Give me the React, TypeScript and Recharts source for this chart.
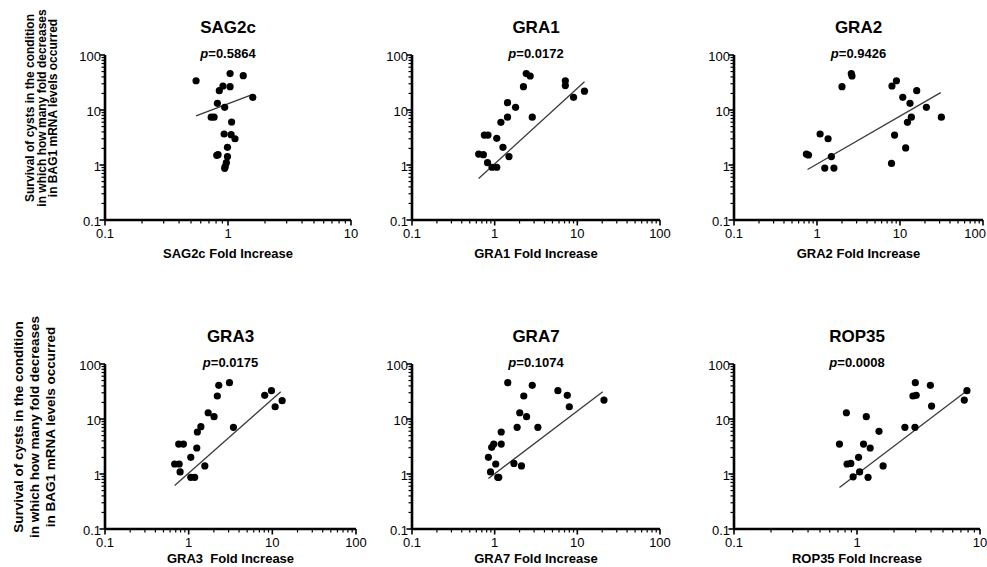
import React from 'react';
import { ScatterChart, Scatter, XAxis, YAxis } from 'recharts';

// ---- tick labels ----
const yMajor = [0.1, 1, 10, 100];
const xMajorShort = [0.1, 1, 10];
const xMajorLong = [0.1, 1, 10, 100];

// ---- SAG2c ----
const sag2cX = [0.55, 1.04, 1.33, 0.91, 1.04, 0.85, 1.59, 0.82, 0.94, 0.73, 0.77, 1.07, 0.93, 1.06, 1.14, 0.99, 0.83, 0.81, 0.99, 0.97, 0.95, 0.94];
const sag2cY = [34, 46, 42, 27.3, 26.5, 22.5, 17, 13.2, 11.2, 7.4, 7.4, 6.05, 3.66, 3.56, 3.0, 2.1, 1.54, 1.5, 1.42, 1.1, 0.95, 0.87];
const sag2cFitX = [0.55, 1.59];
const sag2cFitY = [7.8, 19.3];

// ---- GRA1 ----
const gra1X = [2.41, 2.69, 2.23, 7.16, 7.16, 9.0, 12.2, 1.43, 1.79, 1.43, 2.85, 1.19, 0.75, 0.83, 1.06, 1.26, 0.64, 0.73, 1.49, 0.82, 0.93, 1.06];
const gra1Y = [46, 41.5, 26.5, 34, 27.8, 17, 22, 13.6, 11.2, 7.4, 7.4, 5.97, 3.5, 3.5, 3.05, 2.1, 1.58, 1.54, 1.42, 1.1, 0.91, 0.91];
const gra1FitX = [0.64, 12.2];
const gra1FitY = [0.57, 32.7];

// ---- GRA2 ----
const gra2X = [2.59, 2.64, 2.0, 9.06, 8.0, 15.9, 10.8, 13.2, 20.8, 31.5, 13.7, 12.3, 1.09, 1.36, 8.6, 11.7, 0.745, 0.79, 1.49, 7.9, 1.24, 1.6];
const gra2Y = [46, 41.5, 26.5, 34, 27.3, 22.5, 17, 13.2, 11.2, 7.4, 7.4, 5.97, 3.66, 3.0, 3.5, 2.04, 1.58, 1.52, 1.42, 1.07, 0.88, 0.88];
const gra2FitX = [0.77, 30.9];
const gra2FitY = [0.83, 20.7];

// ---- GRA3 ----
const gra3X = [2.29, 3.07, 2.2, 8.1, 9.76, 10.8, 13.1, 1.71, 2.01, 3.43, 1.4, 1.27, 0.76, 0.865, 1.25, 1.06, 0.68, 0.77, 1.56, 0.79, 1.06, 1.18];
const gra3Y = [41, 45.8, 26.2, 26.9, 32.7, 16.7, 21.5, 13, 11, 7.06, 7.24, 5.8, 3.5, 3.5, 2.97, 2.01, 1.52, 1.52, 1.4, 1.09, 0.87, 0.87];
const gra3FitX = [0.68, 12.6];
const gra3FitY = [0.62, 31.4];

// ---- GRA7 ----
const gra7X = [1.44, 2.85, 2.25, 5.82, 7.56, 8.0, 21, 2.43, 2.01, 1.87, 3.33, 1.2, 0.975, 1.2, 0.92, 0.84, 1.03, 1.71, 2.11, 0.89, 1.09, 1.12];
const gra7Y = [45.8, 41, 26.2, 32.7, 26.9, 16.7, 22.1, 11, 13, 7.06, 7.06, 5.8, 3.5, 3.5, 3.06, 2.01, 1.52, 1.56, 1.4, 1.09, 0.87, 0.87];
const gra7FitX = [0.84, 20.3];
const gra7FitY = [0.83, 31.4];

// ---- ROP35 ----
const rop35X = [2.98, 3.95, 2.85, 3.03, 7.83, 7.45, 4.04, 0.82, 1.19, 2.45, 2.96, 1.51, 0.72, 1.13, 1.28, 1.03, 0.83, 0.89, 1.63, 1.05, 0.93, 1.23];
const rop35Y = [45.8, 41, 26.2, 26.9, 32.7, 22.1, 17.2, 13, 11, 7.06, 7.06, 5.97, 3.5, 3.5, 2.97, 2.01, 1.52, 1.56, 1.4, 1.09, 0.89, 0.87];
const rop35FitX = [0.72, 7.83];
const rop35FitY = [0.57, 32.7];

const yLabelLines = [
  'Survival of cysts in the condition',
  'in which how many fold decreases',
  'in BAG1 mRNA levels occurred',
];

const FONT = '"Liberation Sans", Arial, Helvetica, sans-serif';

function withMinors(majors: number[]): number[] {
  const out: number[] = [];
  for (let i = 0; i < majors.length; i++) {
    out.push(majors[i]);
    if (i < majors.length - 1) {
      for (let k = 2; k <= 9; k++) out.push(+(majors[i] * k).toPrecision(6));
    }
  }
  return out;
}

function isMajor(v: number) {
  const l = Math.log10(v);
  return Math.abs(l - Math.round(l)) < 1e-6;
}

const XTick = (props: any) => {
  const { x, y, payload, lastValue, clampLast } = props;
  const v = payload.value;
  const major = isMajor(v);
  const clamp = clampLast && Math.abs(v - lastValue) < 1e-9;
  return (
    <g>
      <line x1={x} y1={y} x2={x} y2={y + (major ? 5.5 : 3.5)} stroke="#000" strokeWidth={major ? 1.6 : 1.2} />
      {major && (
        <text
          x={clamp ? x + 3 : x}
          y={y + 13}
          textAnchor={clamp ? 'end' : 'middle'}
          dominantBaseline="central"
          fontSize={13}
          fontFamily={FONT}
          fill="#000"
        >
          {String(v)}
        </text>
      )}
    </g>
  );
};

const YTick = (props: any) => {
  const { x, y, payload } = props;
  const v = payload.value;
  const major = isMajor(v);
  return (
    <g>
      <line x1={x} y1={y} x2={x - (major ? 5.5 : 3.5)} y2={y} stroke="#000" strokeWidth={major ? 1.6 : 1.2} />
      {major && (
        <text x={x - 4} y={y + 1} textAnchor="end" dominantBaseline="central" fontSize={13} fontFamily={FONT} fill="#000">
          {String(v)}
        </text>
      )}
    </g>
  );
};

const Dot = (props: any) => <circle cx={props.cx} cy={props.cy} r={3.6} fill="#000" />;
const NoDot = () => <g />;

type PanelProps = {
  left: number;
  top: number;
  width: number;
  xMajors: number[];
  title: string;
  p: string;
  xLabel: string;
  xLabelDy: number;
  xs: number[];
  ys: number[];
  fx: number[];
  fy: number[];
  clampLast?: boolean;
};

function Panel({ left, top, width, xMajors, title, p, xLabel, xLabelDy, xs, ys, fx, fy, clampLast }: PanelProps) {
  const data = xs.map((x, i) => ({ x, y: ys[i] }));
  const fit = fx.map((x, i) => ({ x, y: fy[i] }));
  const plotH = 165;
  const cx = left + width / 2;
  const lastValue = xMajors[xMajors.length - 1];
  return (
    <>
      <div style={{ position: 'absolute', left: left - 60, top: top - 10 }}>
        <ScatterChart width={width + 72} height={10 + plotH + 50} margin={{ top: 10, right: 12, bottom: 0, left: 0 }}>
          <XAxis
            type="number"
            dataKey="x"
            scale="log"
            domain={[xMajors[0], lastValue]}
            ticks={withMinors(xMajors)}
            interval={0}
            tick={<XTick lastValue={lastValue} clampLast={!!clampLast} />}
            tickLine={false}
            tickSize={0}
            tickMargin={0}
            axisLine={{ stroke: '#000', strokeWidth: 2.6 }}
            height={50}
            allowDataOverflow
          />
          <YAxis
            type="number"
            dataKey="y"
            scale="log"
            domain={[yMajor[0], yMajor[yMajor.length - 1]]}
            ticks={withMinors(yMajor)}
            interval={0}
            tick={<YTick />}
            tickLine={false}
            tickSize={0}
            tickMargin={0}
            axisLine={{ stroke: '#000', strokeWidth: 2.6 }}
            width={60}
            allowDataOverflow
          />
          <Scatter data={fit} line={{ stroke: '#3a3a3a', strokeWidth: 1.3 }} shape={NoDot} isAnimationActive={false} />
          <Scatter data={data} fill="#000" shape={Dot} isAnimationActive={false} />
        </ScatterChart>
      </div>
      <div
        style={{
          position: 'absolute',
          left: cx,
          top: top - 28,
          transform: 'translate(-50%, -50%)',
          fontFamily: FONT,
          fontWeight: 'bold',
          fontSize: 17,
          whiteSpace: 'nowrap',
          lineHeight: 1,
        }}
      >
        {title}
      </div>
      <div
        style={{
          position: 'absolute',
          left: cx,
          top: top - 2,
          transform: 'translate(-50%, -50%)',
          fontFamily: FONT,
          fontWeight: 'bold',
          fontSize: 13,
          whiteSpace: 'nowrap',
          lineHeight: 1,
        }}
      >
        <span style={{ fontStyle: 'italic' }}>p</span>={p}
      </div>
      <div
        style={{
          position: 'absolute',
          left: cx,
          top: top + plotH + xLabelDy,
          transform: 'translate(-50%, -50%)',
          fontFamily: FONT,
          fontWeight: 'bold',
          fontSize: 13,
          whiteSpace: 'pre',
          lineHeight: 1,
        }}
      >
        {xLabel}
      </div>
    </>
  );
}

function YLabel({ cy, xs, size }: { cy: number; xs: number[]; size: number }) {
  return (
    <>
      {yLabelLines.map((t, i) => (
        <text
          key={i}
          x={xs[i]}
          y={cy}
          transform={`rotate(-90 ${xs[i]} ${cy})`}
          textAnchor="middle"
          dominantBaseline="central"
          fontFamily={FONT}
          fontWeight="bold"
          fontSize={size}
          fill="#000"
        >
          {t}
        </text>
      ))}
    </>
  );
}

export default function App() {
  return (
    <div
      style={{
        position: 'absolute',
        left: 0,
        top: 0,
        width: 987,
        height: 567,
        background: '#fff',
        overflow: 'hidden',
      }}
    >
      <svg width={987} height={567} style={{ position: 'absolute', left: 0, top: 0 }}>
        <YLabel cy={108} xs={[30, 42, 53]} size={12} />
        <YLabel cy={427} xs={[18, 34, 50]} size={13.5} />
      </svg>
      <Panel left={105} top={55} width={246} xMajors={xMajorShort} title="SAG2c" p="0.5864" xLabel="SAG2c Fold Increase" xLabelDy={33} xs={sag2cX} ys={sag2cY} fx={sag2cFitX} fy={sag2cFitY} />
      <Panel left={412} top={55} width={248} xMajors={xMajorLong} title="GRA1" p="0.0172" xLabel="GRA1 Fold Increase" xLabelDy={33} xs={gra1X} ys={gra1Y} fx={gra1FitX} fy={gra1FitY} />
      <Panel left={734} top={55} width={249} xMajors={xMajorLong} title="GRA2" p="0.9426" xLabel="GRA2 Fold Increase" xLabelDy={33} xs={gra2X} ys={gra2Y} fx={gra2FitX} fy={gra2FitY} clampLast />
      <Panel left={105} top={364} width={251} xMajors={xMajorLong} title="GRA3" p="0.0175" xLabel="GRA3  Fold Increase" xLabelDy={29} xs={gra3X} ys={gra3Y} fx={gra3FitX} fy={gra3FitY} />
      <Panel left={412} top={364} width={248} xMajors={xMajorLong} title="GRA7" p="0.1074" xLabel="GRA7 Fold Increase" xLabelDy={29} xs={gra7X} ys={gra7Y} fx={gra7FitX} fy={gra7FitY} />
      <Panel left={734} top={364} width={246} xMajors={xMajorShort} title="ROP35" p="0.0008" xLabel="ROP35 Fold Increase" xLabelDy={29} xs={rop35X} ys={rop35Y} fx={rop35FitX} fy={rop35FitY} />
    </div>
  );
}
